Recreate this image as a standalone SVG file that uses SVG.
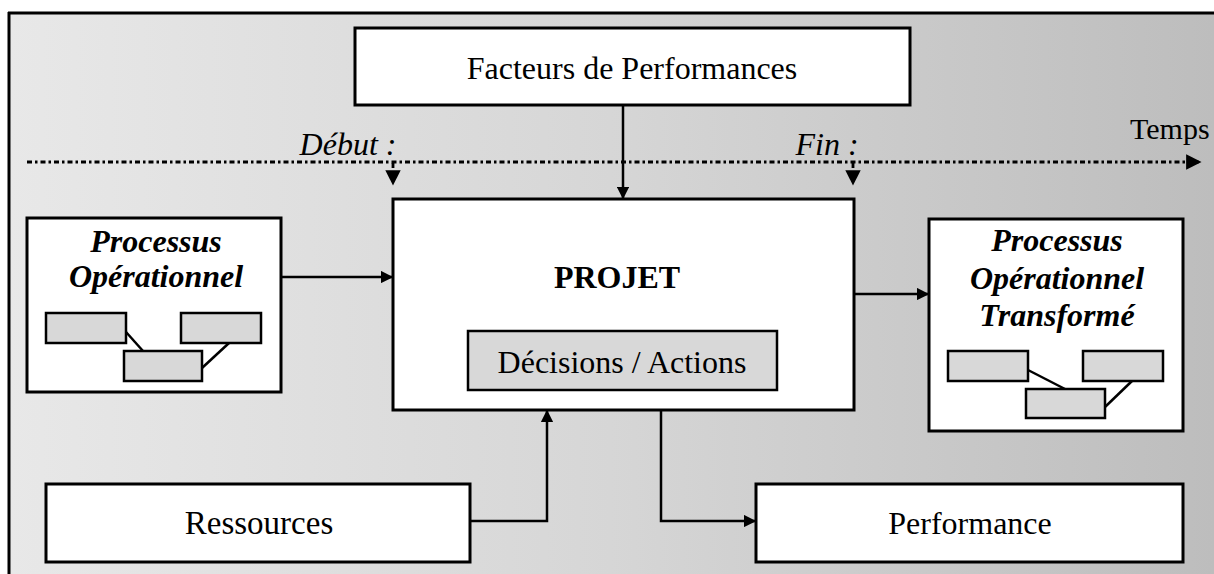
<svg xmlns="http://www.w3.org/2000/svg" width="1214" height="574" viewBox="0 0 1214 574">
<defs>
<linearGradient id="bg" x1="0" y1="0" x2="1" y2="0">
<stop offset="0" stop-color="#e8e8e8"/>
<stop offset="0.5" stop-color="#d6d6d6"/>
<stop offset="1" stop-color="#bdbdbd"/>
</linearGradient>
<marker id="ah" viewBox="0 0 10 10" refX="9" refY="5" markerWidth="5" markerHeight="5" orient="auto" markerUnits="strokeWidth">
<path d="M0,0 L10,5 L0,10 z" fill="#000"/>
</marker>
<marker id="ahs" viewBox="0 0 10 10" refX="9" refY="5" markerWidth="5.5" markerHeight="5.5" orient="auto" markerUnits="strokeWidth">
<path d="M0,0 L10,5 L0,10 z" fill="#000"/>
</marker>
</defs>
<style>
.box{fill:#fff;stroke:#000;stroke-width:3}
.gbox{fill:#d8d8d8;stroke:#000;stroke-width:2.5}
.t{font-family:"Liberation Serif","Times New Roman",serif;fill:#000;text-anchor:middle}
.bi{font-weight:bold;font-style:italic}
.con{fill:none;stroke:#000;stroke-width:2.5}
.dot{fill:none;stroke:#000;stroke-width:2.8;stroke-dasharray:5 3 2.5 3}
</style>
<rect x="0" y="0" width="1214" height="574" fill="#fff"/>
<rect x="8" y="13" width="1206" height="561" fill="url(#bg)"/>
<g id="frame">
<line x1="8" y1="13" x2="1214" y2="13" stroke="#000" stroke-width="3"/>
<line x1="9" y1="12" x2="9" y2="574" stroke="#000" stroke-width="3"/>
</g>
<g id="time-axis">
<line class="dot" x1="27" y1="162" x2="1200" y2="162" marker-end="url(#ahs)"/>
<text class="t" x="1130" y="139" font-size="30" style="text-anchor:start">Temps</text>
</g>
<g id="debut">
<text class="t" x="348" y="155" font-size="32" font-style="italic">Début :</text>
<line class="dot" x1="393" y1="163" x2="393" y2="184" marker-end="url(#ahs)" stroke-dasharray="4 3"/>
</g>
<g id="fin">
<text class="t" x="827" y="155" font-size="32" font-style="italic">Fin :</text>
<line class="dot" x1="853" y1="163" x2="853" y2="184" marker-end="url(#ahs)" stroke-dasharray="4 3"/>
</g>
<g id="facteurs">
<rect class="box" x="355" y="28" width="555" height="77"/>
<text class="t" x="632" y="79" font-size="32">Facteurs de Performances</text>
</g>
<g id="projet">
<rect class="box" x="393" y="199" width="461" height="211"/>
<text class="t" x="617" y="288" font-size="32" font-weight="bold">PROJET</text>
<rect class="gbox" x="468" y="331" width="309" height="59"/>
<text class="t" x="622" y="373" font-size="32">Décisions / Actions</text>
</g>
<g id="processus">
<rect class="box" x="27" y="218" width="254" height="174"/>
<text class="t bi" x="156" y="252" font-size="32">Processus</text>
<text class="t bi" x="156" y="287" font-size="32">Opérationnel</text>
<rect class="gbox" x="46" y="313" width="80" height="30"/>
<rect class="gbox" x="181" y="313" width="80" height="30"/>
<rect class="gbox" x="124" y="351" width="78" height="30"/>
<line class="con" x1="126" y1="332" x2="143" y2="351"/>
<line class="con" x1="229" y1="343" x2="202" y2="368"/>
</g>
<g id="processus-transforme">
<rect class="box" x="929" y="219" width="254" height="212"/>
<text class="t bi" x="1057" y="251" font-size="32">Processus</text>
<text class="t bi" x="1057" y="289" font-size="32">Opérationnel</text>
<text class="t bi" x="1057" y="326" font-size="32">Transformé</text>
<rect class="gbox" x="948" y="351" width="80" height="30"/>
<rect class="gbox" x="1083" y="351" width="80" height="30"/>
<rect class="gbox" x="1026" y="389" width="79" height="29"/>
<line class="con" x1="1028" y1="370" x2="1065" y2="389"/>
<line class="con" x1="1132" y1="381" x2="1105" y2="407"/>
</g>
<g id="ressources">
<rect class="box" x="46" y="484" width="424" height="78"/>
<text class="t" x="259" y="534" font-size="33">Ressources</text>
</g>
<g id="performance">
<rect class="box" x="756" y="484" width="427" height="78"/>
<text class="t" x="970" y="534" font-size="32">Performance</text>
</g>
<g id="connectors">
<line class="con" x1="623" y1="105" x2="623" y2="198" marker-end="url(#ah)"/>
<line class="con" x1="281" y1="277" x2="392" y2="277" marker-end="url(#ah)"/>
<line class="con" x1="854" y1="294" x2="928" y2="294" marker-end="url(#ah)"/>
<polyline class="con" points="470,521 547,521 547,411" marker-end="url(#ah)"/>
<polyline class="con" points="661,410 661,521 755,521" marker-end="url(#ah)"/>
</g>
</svg>
